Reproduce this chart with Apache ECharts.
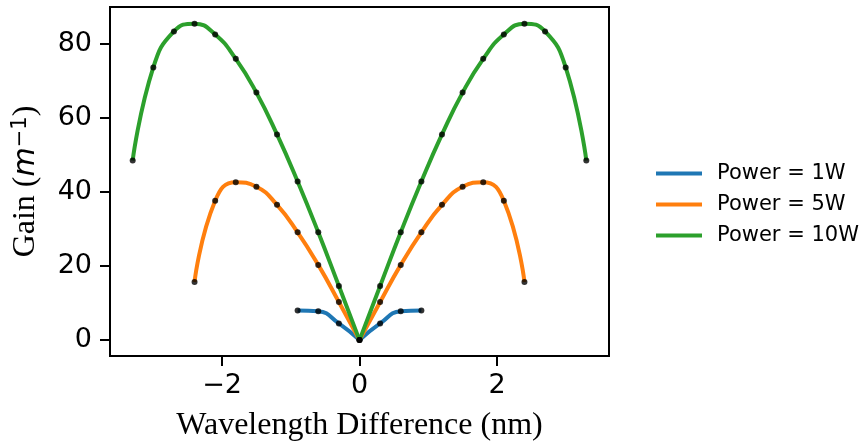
<!DOCTYPE html>
<html>
<head>
<meta charset="utf-8">
<script src="https://cdn.jsdelivr.net/npm/echarts@6/dist/echarts.min.js"></script>
<style>
  html, body { margin: 0; padding: 0; background: #fff; }
  #chart { width: 860px; height: 447px; }
</style>
</head>
<body>
<div id="chart"></div>
<script>
// ---- data ----
const seriesNames = ['Power = 1W', 'Power = 5W', 'Power = 10W'];
const seriesColors = ['#1f77b4', '#ff7f0e', '#2ca02c'];

const wl1 = [-0.9, -0.6, -0.3, 0, 0.3, 0.6, 0.9];
const gain1 = [8.0, 7.8, 4.5, 0, 4.5, 7.8, 8.0];

const wl5 = [-2.4, -2.1, -1.8, -1.5, -1.2, -0.9, -0.6, -0.3, 0, 0.3, 0.6, 0.9, 1.2, 1.5, 1.8, 2.1, 2.4];
const gain5 = [15.7, 37.6, 42.6, 41.4, 36.5, 29.1, 20.3, 10.3, 0, 10.3, 20.3, 29.1, 36.5, 41.4, 42.6, 37.6, 15.7];

const wl10 = [-3.3, -3.0, -2.7, -2.4, -2.1, -1.8, -1.5, -1.2, -0.9, -0.6, -0.3, 0, 0.3, 0.6, 0.9, 1.2, 1.5, 1.8, 2.1, 2.4, 2.7, 3.0, 3.3];
const gain10 = [48.5, 73.6, 83.3, 85.4, 82.5, 75.9, 66.8, 55.5, 42.8, 29.1, 14.6, 0, 14.6, 29.1, 42.8, 55.5, 66.8, 75.9, 82.5, 85.4, 83.3, 73.6, 48.5];

const xTicks = [-2, 0, 2];
const yTicks = [0, 20, 40, 60, 80];

// ---- build options ----
const allWl = [wl1, wl5, wl10];
const allGain = [gain1, gain5, gain10];

function pairs(xs, ys, keep) {
  const out = [];
  for (let i = 0; i < xs.length; i++) if (keep(xs[i])) out.push([xs[i], ys[i]]);
  return out;
}

const series = [];
for (let k = 0; k < 3; k++) {
  // left and right halves drawn separately so the curve meets at the sharp minimum
  [v => v <= 0, v => v >= 0].forEach(keep => {
    series.push({
      name: seriesNames[k],
      type: 'line',
      data: pairs(allWl[k], allGain[k], keep),
      smooth: 0.5,
      symbol: 'none',
      lineStyle: { color: seriesColors[k], width: 4 },
      itemStyle: { color: seriesColors[k] },
      z: 2 + k
    });
  });
}
for (let k = 0; k < 3; k++) {
  series.push({
    name: 'dots' + k,
    type: 'scatter',
    data: pairs(allWl[k], allGain[k], () => true),
    symbol: 'circle',
    symbolSize: 6,
    itemStyle: { color: '#000' },
    z: 10
  });
}

const fmt = v => (v < 0 ? '\u2212' + Math.abs(v) : String(v));

const option = {
  animation: false,
  backgroundColor: '#fff',
  grid: {
    left: 110, right: 251, top: 7, bottom: 88,
    show: true, borderColor: '#000', borderWidth: 2, backgroundColor: 'transparent'
  },
  xAxis: {
    type: 'value',
    min: -3.63, max: 3.63,
    axisLine: { show: false, onZero: false },
    splitLine: { show: false },
    axisTick: { show: true, customValues: xTicks, length: 10, lineStyle: { color: '#000', width: 2 } },
    axisLabel: {
      customValues: xTicks, formatter: fmt, margin: 16,
      fontFamily: 'DejaVu Sans', fontSize: 27, color: '#000'
    },
    name: 'Wavelength Difference (nm)',
    nameLocation: 'middle',
    nameGap: 54,
    nameTextStyle: { fontFamily: 'Liberation Serif', fontSize: 32, color: '#000' }
  },
  yAxis: {
    type: 'value',
    min: -4.29, max: 89.9,
    axisLine: { show: false, onZero: false },
    splitLine: { show: false },
    axisTick: { show: true, customValues: yTicks, length: 10, lineStyle: { color: '#000', width: 2 } },
    axisLabel: {
      customValues: yTicks, formatter: fmt, margin: 18,
      fontFamily: 'DejaVu Sans', fontSize: 27, color: '#000'
    },
    name: '{a|Gain (}{m|m}{s|\u22121}{a|)}',
    nameLocation: 'middle',
    nameRotate: 90,
    nameGap: 68,
    nameTextStyle: {
      color: '#000',
      rich: {
        a: { fontFamily: 'Liberation Serif', fontSize: 32, color: '#000' },
        m: { fontFamily: 'DejaVu Sans', fontStyle: 'italic', fontSize: 30, color: '#000' },
        s: { fontFamily: 'DejaVu Sans', fontSize: 21, color: '#000', verticalAlign: 'top' }
      }
    }
  },
  legend: {
    data: seriesNames,
    orient: 'vertical',
    left: 651,
    top: 158,
    icon: 'rect',
    itemWidth: 46,
    itemHeight: 4,
    itemGap: 10,
    textStyle: { fontFamily: 'DejaVu Sans', fontSize: 21, color: '#000', lineHeight: 21, padding: [0, 0, 0, 10] }
  },
  series: series
};

const chart = echarts.init(document.getElementById('chart'), null, { renderer: 'canvas' });
chart.setOption(option);
</script>
</body>
</html>
